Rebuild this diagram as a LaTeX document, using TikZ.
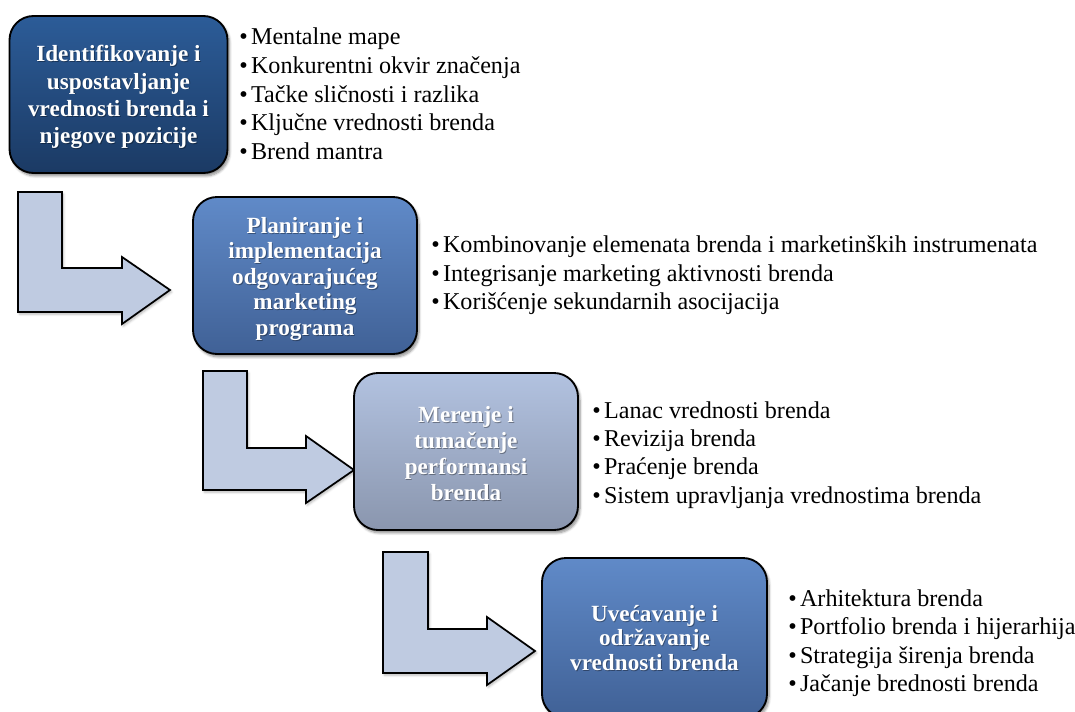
\documentclass[tikz,border=0pt]{standalone}
\usepackage{fontspec}
\setmainfont{Liberation Serif}
\usetikzlibrary{shadows.blur}

\definecolor{flowfill}{RGB}{191,203,225}
\definecolor{darkTop}{RGB}{44,92,152}
\definecolor{darkBot}{RGB}{27,58,100}
\definecolor{midTop}{RGB}{96,138,200}
\definecolor{midBot}{RGB}{64,97,150}
\definecolor{paleTop}{RGB}{178,194,224}
\definecolor{paleBot}{RGB}{138,150,174}

\begin{document}
\begin{tikzpicture}[x=0.75pt,y=-0.75pt,
  stage/.style={rounded corners=18pt, draw=black, line width=1.4pt,
    shading=axis, inner sep=0pt,
    blur shadow={shadow xshift=1.5pt, shadow yshift=-2.2pt, shadow blur steps=6, shadow opacity=45}},
  stagetext/.style={text=white, align=center, inner sep=0pt,
    font=\fontsize{17.4}{#1}\selectfont\bfseries},
  stageshadow/.style={stagetext=#1, text=black, opacity=0.35},
  flow/.style={draw=black, line width=1.3pt, fill=flowfill, line join=miter,
    blur shadow={shadow xshift=1pt, shadow yshift=-1.5pt, shadow blur steps=4, shadow opacity=30}},
  item/.style={anchor=base west, inner sep=0pt,
    font=\fontsize{18.1}{21}\selectfont}]

\useasboundingbox (0,0) rectangle (1075,711);

% bent flow arrows between stages
\draw[flow] (18,192) -- (62,192) -- (62,268) -- (122,268) -- (122,257) -- (170,290)
  -- (122,324) -- (122,312) -- (18,312) -- cycle;
\draw[flow] (203,371) -- (247,371) -- (247,448) -- (306,448) -- (306,436) -- (354,470)
  -- (306,503) -- (306,490) -- (203,490) -- cycle;
\draw[flow] (383,552) -- (428,552) -- (428,629) -- (487,629) -- (487,617) -- (535,651)
  -- (487,685) -- (487,673) -- (383,673) -- cycle;

% stage boxes
\node[stage, top color=darkTop, bottom color=darkBot,
  minimum width=163.5pt, minimum height=117.75pt] (b1) at (118.5,94.5) {};
\node[stage, top color=midTop, bottom color=midBot,
  minimum width=168pt, minimum height=117.75pt] (b2) at (305,275.5) {};
\node[stage, top color=paleTop, bottom color=paleBot,
  minimum width=168pt, minimum height=117.75pt] (b3) at (466,451.5) {};
\node[stage, top color=midTop, bottom color=midBot,
  minimum width=168.75pt, minimum height=120pt] (b4) at (654.5,638) {};

% stage titles with a soft text shadow
\node[stageshadow=20.4pt] (s1) at ([shift={(0.7pt,-2.6pt)}]b1.center) {Identifikovanje i\\uspostavljanje\\vrednosti brenda i\\njegove pozicije};
\node[stagetext=20.4pt] (t1) at ([shift={(0pt,-1.9pt)}]b1.center) {Identifikovanje i\\uspostavljanje\\vrednosti brenda i\\njegove pozicije};
\node[stageshadow=19.1pt] (s2) at ([shift={(0.7pt,-3.2pt)}]b2.center) {Planiranje i\\implementacija\\odgovarajućeg\\marketing\\programa};
\node[stagetext=19.1pt] (t2) at ([shift={(0pt,-2.5pt)}]b2.center) {Planiranje i\\implementacija\\odgovarajućeg\\marketing\\programa};
\node[stageshadow=19.5pt] (s3) at ([shift={(0.7pt,-2.2pt)}]b3.center) {Merenje i\\tumačenje\\performansi\\brenda};
\node[stagetext=19.5pt] (t3) at ([shift={(0pt,-1.5pt)}]b3.center) {Merenje i\\tumačenje\\performansi\\brenda};
\node[stageshadow=18.4pt] (s4) at ([shift={(0.7pt,-0.7pt)}]b4.center) {Uvećavanje i\\održavanje\\vrednosti brenda};
\node[stagetext=18.4pt] (t4) at (b4.center) {Uvećavanje i\\održavanje\\vrednosti brenda};

% bullet lists
\node[item] (l1a) at (239,44)  {•\hspace{2.5pt}Mentalne mape};
\node[item] (l1b) at (239,73)  {•\hspace{2.5pt}Konkurentni okvir značenja};
\node[item] (l1c) at (239,102) {•\hspace{2.5pt}Tačke sličnosti i razlika};
\node[item] (l1d) at (239,130) {•\hspace{2.5pt}Ključne vrednosti brenda};
\node[item] (l1e) at (239,159) {•\hspace{2.5pt}Brend mantra};

\node[item] (l2a) at (431,252) {•\hspace{2.5pt}Kombinovanje elemenata brenda i marketinških instrumenata};
\node[item] (l2b) at (431,281) {•\hspace{2.5pt}Integrisanje marketing aktivnosti brenda};
\node[item] (l2c) at (431,309) {•\hspace{2.5pt}Korišćenje sekundarnih asocijacija};

\node[item] (l3a) at (592,418) {•\hspace{2.5pt}Lanac vrednosti brenda};
\node[item] (l3b) at (592,446) {•\hspace{2.5pt}Revizija brenda};
\node[item] (l3c) at (592,474) {•\hspace{2.5pt}Praćenje brenda};
\node[item] (l3d) at (592,503) {•\hspace{2.5pt}Sistem upravljanja vrednostima brenda};

\node[item] (l4a) at (788,606) {•\hspace{2.5pt}Arhitektura brenda};
\node[item] (l4b) at (788,634) {•\hspace{2.5pt}Portfolio brenda i hijerarhija};
\node[item] (l4c) at (788,663) {•\hspace{2.5pt}Strategija širenja brenda};
\node[item] (l4d) at (788,691) {•\hspace{2.5pt}Jačanje brednosti brenda};
\end{tikzpicture}
\end{document}
